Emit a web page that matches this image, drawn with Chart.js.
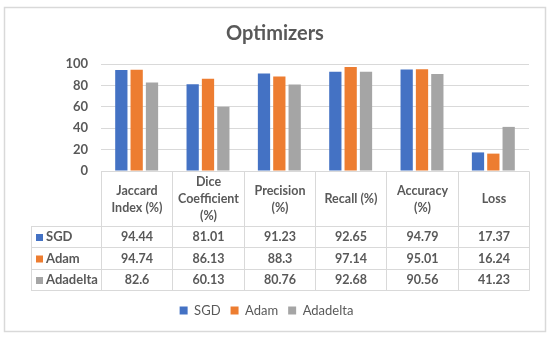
<!DOCTYPE html>
<html>
<head>
<meta charset="utf-8">
<script src="https://cdn.jsdelivr.net/npm/chart.js@4"></script>
<style>
  html, body { margin: 0; padding: 0; background: #fff; }
  #wrap { width: 550px; height: 340px; }
</style>
</head>
<body>
<div id="wrap"><canvas id="chart" width="550" height="340"></canvas></div>
<script>
// Data
const categories = [
    ['Jaccard', 'Index (%)'],
    ['Dice', 'Coefficient', '(%)'],
    ['Precision', '(%)'],
    ['Recall (%)'],
    ['Accuracy', '(%)'],
    ['Loss']
];
const seriesNames = ['SGD', 'Adam', 'Adadelta'];
const sgdValues = [94.44, 81.01, 91.23, 92.65, 94.79, 17.37];
const adamValues = [94.74, 86.13, 88.3, 97.14, 95.01, 16.24];
const adadeltaValues = [82.6, 60.13, 80.76, 92.68, 90.56, 41.23];
const yTicks = [0, 20, 40, 60, 80, 100];
const chartTitle = 'Optimizers';

const colors = ['#4472C4', '#ED7D31', '#A5A5A5'];
const textColor = '#595959';
const lineColor = '#d9d9d9';
const fontFamily = 'Lato, "Open Sans", sans-serif';

// geometry of the data table below the plot
const labelColLeft = 31;
const headerHeight = 55;
const rowHeight = 21.3;

// frame and title
const framePlugin = {
    id: 'frame',
    beforeDraw(chart) {
        const ctx = chart.ctx;
        ctx.save();
        ctx.strokeStyle = lineColor;
        ctx.lineWidth = 1.5;
        ctx.strokeRect(4.5, 7.5, 541, 324);
        ctx.fillStyle = textColor;
        ctx.font = 'bold 20px ' + fontFamily;
        ctx.textAlign = 'center';
        ctx.textBaseline = 'alphabetic';
        ctx.fillText(chartTitle, 275, 40);
        ctx.restore();
    }
};

// draws the data table using the x scale's category positions
const tablePlugin = {
    id: 'dataTable',
    afterDraw(chart) {
        const ctx = chart.ctx;
        const x = chart.scales.x;
        const area = chart.chartArea;
        const top = Math.round(area.bottom) + 0.5;
        const half = (x.getPixelForValue(1) - x.getPixelForValue(0)) / 2;
        const edges = [];
        for (let i = 0; i <= categories.length; i++) {
            const px = i < categories.length ? x.getPixelForValue(i) - half : x.getPixelForValue(i - 1) + half;
            edges.push(Math.round(px) + 0.5);
        }
        const rowsTop = top + headerHeight;
        const rowY = r => Math.round(rowsTop + r * rowHeight - 0.5) + 0.5;
        const bottom = rowY(seriesNames.length);

        ctx.save();
        ctx.strokeStyle = lineColor;
        ctx.lineWidth = 1;
        ctx.beginPath();
        ctx.moveTo(edges[0], top);
        ctx.lineTo(edges[edges.length - 1], top);
        edges.forEach(e => {
            ctx.moveTo(e, top);
            ctx.lineTo(e, bottom);
        });
        ctx.moveTo(labelColLeft + 0.5, rowsTop);
        ctx.lineTo(labelColLeft + 0.5, bottom);
        for (let r = 0; r <= seriesNames.length; r++) {
            ctx.moveTo(labelColLeft, rowY(r));
            ctx.lineTo(edges[edges.length - 1], rowY(r));
        }
        ctx.stroke();

        ctx.fillStyle = textColor;
        ctx.font = 'bold 12.5px ' + fontFamily;
        ctx.textAlign = 'center';
        ctx.textBaseline = 'middle';
        // header labels
        const lh = 17;
        categories.forEach((lines, i) => {
            const cx = (edges[i] + edges[i + 1]) / 2;
            const startY = top + headerHeight / 2 - (lines.length - 1) * lh / 2;
            lines.forEach((t, k) => ctx.fillText(t, cx, startY + k * lh));
        });
        // values and row labels
        const allValues = [sgdValues, adamValues, adadeltaValues];
        allValues.forEach((vals, r) => {
            const cy = (rowY(r) + rowY(r + 1)) / 2;
            vals.forEach((v, i) => {
                const cx = (edges[i] + edges[i + 1]) / 2;
                ctx.fillText(String(v), cx, cy);
            });
            ctx.fillStyle = colors[r];
            ctx.fillRect(labelColLeft + 5, cy - 3, 7, 7);
            ctx.fillStyle = textColor;
            ctx.textAlign = 'left';
            ctx.font = 'bold 13px ' + fontFamily;
            ctx.fillText(seriesNames[r], labelColLeft + 15, cy);
            ctx.font = 'bold 12.5px ' + fontFamily;
            ctx.textAlign = 'center';
        });
        ctx.restore();
    }
};

const ctx = document.getElementById('chart').getContext('2d');
new Chart(ctx, {
    type: 'bar',
    data: {
        labels: categories,
        datasets: [
            { label: seriesNames[0], data: sgdValues, backgroundColor: colors[0] },
            { label: seriesNames[1], data: adamValues, backgroundColor: colors[1] },
            { label: seriesNames[2], data: adadeltaValues, backgroundColor: colors[2] }
        ]
    },
    options: {
        responsive: false,
        animation: false,
        maintainAspectRatio: false,
        layout: { padding: { left: 4, right: 21, top: 64, bottom: 13 } },
        datasets: {
            bar: { categoryPercentage: 0.645, barPercentage: 0.8 }
        },
        plugins: {
            title: { display: false },
            legend: {
                position: 'bottom',
                labels: {
                    color: textColor,
                    font: { family: fontFamily, size: 13 },
                    boxWidth: 8,
                    boxHeight: 8,
                    padding: 10
                }
            },
            tooltip: { enabled: false }
        },
        scales: {
            x: {
                grid: { display: false },
                border: { display: false },
                ticks: { display: false },
                afterFit(scale) { scale.height = 123; }
            },
            y: {
                min: 0,
                max: 100,
                afterBuildTicks(scale) { scale.ticks = yTicks.map(v => ({ value: v })); },
                afterFit(scale) { scale.width = 97; },
                grid: { color: lineColor, drawTicks: false },
                border: { display: false },
                ticks: {
                    color: textColor,
                    padding: 13,
                    font: { family: fontFamily, size: 13, weight: 'bold' }
                }
            }
        }
    },
    plugins: [framePlugin, tablePlugin]
});
</script>
</body>
</html>
